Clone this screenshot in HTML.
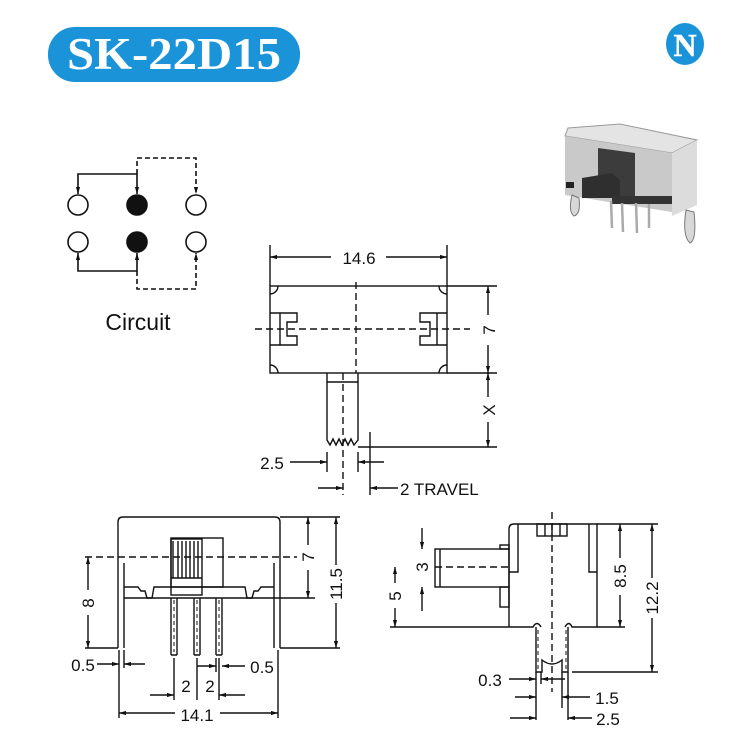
<!DOCTYPE html>
<html><head><meta charset="utf-8"><style>
html,body{margin:0;padding:0;background:#fff;width:735px;height:744px;overflow:hidden}
svg{display:block}
text{font-family:"Liberation Sans",sans-serif;fill:#111}
</style></head><body>
<svg width="735" height="744" viewBox="0 0 735 744" xmlns="http://www.w3.org/2000/svg">
<defs>
<marker id="a" viewBox="0 0 10 10" refX="10" refY="5" markerWidth="7" markerHeight="7" orient="auto-start-reverse" markerUnits="userSpaceOnUse"><path d="M0,2 L10,5 L0,8 z" fill="#111"/></marker>
</defs>
<!-- Title -->
<rect x="48" y="27" width="252" height="55" rx="27" fill="#1a93d8"/>
<text x="174" y="69" text-anchor="middle" style="font-family:'Liberation Serif',serif;font-weight:bold;font-size:45px;fill:#fff" textLength="214" lengthAdjust="spacingAndGlyphs">SK-22D15</text>
<!-- logo -->
<ellipse cx="685" cy="44" rx="19" ry="21" fill="#1a93d8"/>
<text x="685" y="56" text-anchor="middle" style="font-family:'Liberation Serif',serif;font-weight:bold;font-size:32px;fill:#fff;stroke:#fff;stroke-width:0.5">N</text>

<!-- Photo -->
<g>
<polygon points="568,128 620,124 697,140 672,153 565,136" fill="#e4e4e4" stroke="#999" stroke-width="1"/>
<polygon points="565,136 672,153 672,212 565,195" fill="#c9c9c9"/>
<polygon points="672,153 697,140 697,205 672,216" fill="#dcdcdc"/>
<polygon points="598,148 635,153 635,200 598,196" fill="#3c3c3c"/>
<polygon points="582,178 612,173 620,180 620,198 582,198" fill="#2f2f2f"/>
<rect x="566" y="182" width="8" height="6" fill="#222"/>
<rect x="612" y="196" width="60" height="8" fill="#333"/>
<g stroke="#aaa" stroke-width="2.5"><line x1="611" y1="201" x2="612" y2="228"/><line x1="622" y1="203" x2="623" y2="232"/><line x1="636" y1="203" x2="637" y2="233"/><line x1="649" y1="204" x2="649" y2="228"/></g>
<path d="M572,195 Q568,212 574,216 Q581,214 579,198 z" fill="#d8d8d8" stroke="#777"/>
<path d="M686,210 Q682,236 690,243 Q697,240 694,212 z" fill="#d8d8d8" stroke="#777"/>
</g>

<!-- Circuit -->
<g stroke="#111" stroke-width="1.6" fill="none">
<circle cx="78" cy="205" r="10"/><circle cx="196" cy="205" r="10"/>
<circle cx="78" cy="242" r="10"/><circle cx="196" cy="242" r="10"/>
<circle cx="137" cy="205" r="10" fill="#111"/><circle cx="137" cy="242" r="10" fill="#111"/>
<polyline points="137,194 137,174 78,174 78,194" marker-start="url(#a)" marker-end="url(#a)"/>
<polyline points="78,253 78,271 137,271 137,253" marker-start="url(#a)" marker-end="url(#a)"/>
<polyline points="137,174 137,158 196,158 196,194" stroke-dasharray="5,3" marker-end="url(#a)"/>
<polyline points="137,271 137,289 196,289 196,253" stroke-dasharray="5,3" marker-end="url(#a)"/>
</g>
<text x="138" y="330" text-anchor="middle" style="font-size:23px">Circuit</text>

<!-- Top view -->
<g stroke="#111" stroke-width="1.4" fill="none">
<rect x="270" y="286" width="177" height="87"/>
<path d="M270,294 A8,8 0 0 0 278,286 M447,294 A8,8 0 0 1 439,286 M270,365 A8,8 0 0 1 278,373 M447,365 A8,8 0 0 0 439,373"/>
<path d="M270,313 H297 V322 H287 V336 H297 V345 H270 M280,313 V345"/>
<path d="M447,313 H420 V322 H430 V336 H420 V345 H447 M437,313 V345"/>
<line x1="255" y1="329" x2="470" y2="329" stroke-dasharray="7,4"/>
<line x1="356" y1="282" x2="356" y2="373" stroke-dasharray="7,4"/>
<line x1="270" y1="245" x2="270" y2="286"/><line x1="447" y1="245" x2="447" y2="286"/>
<line x1="270" y1="257" x2="331" y2="257" marker-start="url(#a)"/>
<line x1="386" y1="257" x2="447" y2="257" marker-end="url(#a)"/>
<line x1="447" y1="286" x2="497" y2="286"/><line x1="447" y1="373" x2="497" y2="373"/>
<line x1="358" y1="447" x2="497" y2="447"/>
<line x1="488" y1="286" x2="488" y2="315" marker-start="url(#a)"/>
<line x1="488" y1="345" x2="488" y2="373" marker-end="url(#a)"/>
<line x1="488" y1="373" x2="488" y2="397" marker-start="url(#a)"/>
<line x1="488" y1="422" x2="488" y2="447" marker-end="url(#a)"/>
<path d="M327,373 V440 L330,445 L333,439 L336,445 L339,439 L342,445 L345,439 L348,445 L351,439 L354,445 L358,440 V373"/>
<line x1="327" y1="382" x2="358" y2="382"/>
<line x1="343" y1="373" x2="343" y2="495" stroke-dasharray="7,4"/>
<line x1="327" y1="452" x2="327" y2="472"/><line x1="358" y1="452" x2="358" y2="472"/>
<line x1="290" y1="462" x2="327" y2="462" marker-end="url(#a)"/>
<line x1="384" y1="462" x2="358" y2="462" marker-end="url(#a)"/>
<line x1="370" y1="432" x2="370" y2="495"/>
<line x1="318" y1="488" x2="343" y2="488" marker-end="url(#a)"/>
<line x1="398" y1="488" x2="370" y2="488" marker-end="url(#a)"/>
</g>
<text x="272" y="469" text-anchor="middle" style="font-size:17px">2.5</text>
<text x="359" y="264" text-anchor="middle" style="font-size:17px">14.6</text>
<text x="400" y="495" style="font-size:17px">2 TRAVEL</text>
<text transform="translate(495,330) rotate(-90)" text-anchor="middle" style="font-size:17px">7</text>
<text transform="translate(495,410) rotate(-90)" text-anchor="middle" style="font-size:17px">X</text>

<!-- Bottom-left view -->
<g stroke="#111" stroke-width="1.4" fill="none">
<path d="M118,648 V522 Q118,517 123,517 H275 Q280,517 280,522 V648"/>
<path d="M124,563 V648 M274,563 V648"/>
<line x1="85" y1="557" x2="297" y2="557" stroke-dasharray="7,4"/>
<rect x="171" y="538" width="52" height="49"/>
<rect x="171" y="539" width="31" height="56"/>
<path d="M173,541 V578 M178,541 V578 M182,541 V578 M186,541 V578 M190,541 V578 M194,541 V578 M198,541 V578 M171,578 H202"/>
<path d="M124,587 H138 L141,591 H145 L147,598 H152 L154,587 H245 L247,598 H252 L254,591 H258 L261,587 H274"/>
<path d="M124,598 H280 M124,598"/>
<path d="M171,598 V655 M177,598 V655 M194,598 V655 M200,598 V655 M216,598 V655 M222,598 V655 M171,655 H177 M194,655 H200 M216,655 H222"/>
<line x1="174" y1="600" x2="174" y2="652" stroke-dasharray="4,3" stroke-width="1"/>
<line x1="197" y1="600" x2="197" y2="652" stroke-dasharray="4,3" stroke-width="1"/>
<line x1="219" y1="600" x2="219" y2="652" stroke-dasharray="4,3" stroke-width="1"/>
<line x1="280" y1="517" x2="340" y2="517"/><line x1="280" y1="598" x2="315" y2="598"/><line x1="280" y1="648" x2="340" y2="648"/>
<line x1="85" y1="648" x2="118" y2="648"/>
<line x1="88" y1="557" x2="88" y2="590" marker-start="url(#a)"/>
<line x1="88" y1="615" x2="88" y2="648" marker-end="url(#a)"/>
<line x1="308" y1="517" x2="308" y2="545" marker-start="url(#a)"/>
<line x1="308" y1="570" x2="308" y2="598" marker-end="url(#a)"/>
<line x1="336" y1="517" x2="336" y2="565" marker-start="url(#a)"/>
<line x1="336" y1="603" x2="336" y2="648" marker-end="url(#a)"/>
<line x1="119" y1="650" x2="119" y2="718"/><line x1="124" y1="650" x2="124" y2="668"/>
<line x1="278" y1="650" x2="278" y2="718"/>
<line x1="97" y1="664" x2="119" y2="664" marker-end="url(#a)"/>
<line x1="145" y1="664" x2="124" y2="664" marker-end="url(#a)"/>
<line x1="174" y1="658" x2="174" y2="700"/><line x1="197" y1="658" x2="197" y2="700"/><line x1="219" y1="658" x2="219" y2="700"/>
<line x1="216" y1="658" x2="216" y2="672"/>
<line x1="197" y1="666" x2="216" y2="666" marker-end="url(#a)"/>
<line x1="245" y1="666" x2="222" y2="666" marker-end="url(#a)"/>
<line x1="150" y1="695" x2="174" y2="695" marker-end="url(#a)"/>
<line x1="245" y1="695" x2="219" y2="695" marker-end="url(#a)"/>
<line x1="119" y1="713" x2="175" y2="713" marker-start="url(#a)"/>
<line x1="220" y1="713" x2="278" y2="713" marker-end="url(#a)"/>
</g>
<text x="83" y="671" text-anchor="middle" style="font-size:17px">0.5</text>
<text x="262" y="673" text-anchor="middle" style="font-size:17px">0.5</text>
<text x="186" y="692" text-anchor="middle" style="font-size:17px">2</text>
<text x="210" y="692" text-anchor="middle" style="font-size:17px">2</text>
<text x="197" y="721" text-anchor="middle" style="font-size:17px">14.1</text>
<text transform="translate(94,603) rotate(-90)" text-anchor="middle" style="font-size:17px">8</text>
<text transform="translate(314,557) rotate(-90)" text-anchor="middle" style="font-size:17px">7</text>
<text transform="translate(342,584) rotate(-90)" text-anchor="middle" style="font-size:17px">11.5</text>

<!-- Right view -->
<g stroke="#111" stroke-width="1.4" fill="none">
<path d="M509,627 V529 Q509,524 514,524 H597 V627 H572 Q569,620 565,627 M509,627 H533 Q537,620 541,627"/>
<path d="M518,524 V572 H509 M589,524 V572 H597"/>
<rect x="537" y="524" width="30" height="12"/>
<path d="M545,524 V536 M552,524 V536 M560,524 V536"/>
<line x1="552" y1="512" x2="552" y2="692" stroke-dasharray="7,4"/>
<rect x="435" y="549" width="74" height="38"/>
<line x1="440" y1="549" x2="440" y2="587"/>
<rect x="500" y="545" width="9" height="4"/><rect x="500" y="587" width="9" height="20"/>
<line x1="435" y1="567" x2="509" y2="567" stroke-dasharray="7,4"/>
<path d="M536,627 V672 H542 V660 Q552,668 562,660 V672 H568 V627"/>
<path d="M538,630 V670 M566,630 V670" stroke-dasharray="4,3" stroke-width="1"/>
<line x1="390" y1="627" x2="509" y2="627"/>
<line x1="597" y1="524" x2="658" y2="524"/><line x1="597" y1="627" x2="625" y2="627"/><line x1="572" y1="672" x2="658" y2="672"/>
<line x1="422" y1="528" x2="422" y2="549" marker-end="url(#a)"/>
<line x1="422" y1="611" x2="422" y2="587" marker-end="url(#a)"/>
<line x1="395" y1="567" x2="395" y2="583" marker-start="url(#a)"/>
<line x1="395" y1="608" x2="395" y2="627" marker-end="url(#a)"/>
<line x1="620" y1="524" x2="620" y2="558" marker-start="url(#a)"/>
<line x1="620" y1="595" x2="620" y2="627" marker-end="url(#a)"/>
<line x1="652" y1="524" x2="652" y2="578" marker-start="url(#a)"/>
<line x1="652" y1="618" x2="652" y2="672" marker-end="url(#a)"/>
<line x1="536" y1="672" x2="536" y2="720"/><line x1="541" y1="672" x2="541" y2="684"/>
<line x1="562" y1="672" x2="562" y2="708"/><line x1="568" y1="672" x2="568" y2="720"/>
<line x1="509" y1="679" x2="536" y2="679" marker-end="url(#a)"/>
<line x1="565" y1="679" x2="541" y2="679" marker-end="url(#a)"/>
<line x1="515" y1="697" x2="536" y2="697" marker-end="url(#a)"/>
<line x1="590" y1="697" x2="562" y2="697" marker-end="url(#a)"/>
<line x1="510" y1="718" x2="536" y2="718" marker-end="url(#a)"/>
<line x1="592" y1="718" x2="568" y2="718" marker-end="url(#a)"/>
</g>
<text x="490" y="686" text-anchor="middle" style="font-size:17px">0.3</text>
<text x="607" y="704" text-anchor="middle" style="font-size:17px">1.5</text>
<text x="608" y="725" text-anchor="middle" style="font-size:17px">2.5</text>
<text transform="translate(428,567) rotate(-90)" text-anchor="middle" style="font-size:17px">3</text>
<text transform="translate(401,596) rotate(-90)" text-anchor="middle" style="font-size:17px">5</text>
<text transform="translate(626,576) rotate(-90)" text-anchor="middle" style="font-size:17px">8.5</text>
<text transform="translate(658,598) rotate(-90)" text-anchor="middle" style="font-size:17px">12.2</text>
</svg>
</body></html>
